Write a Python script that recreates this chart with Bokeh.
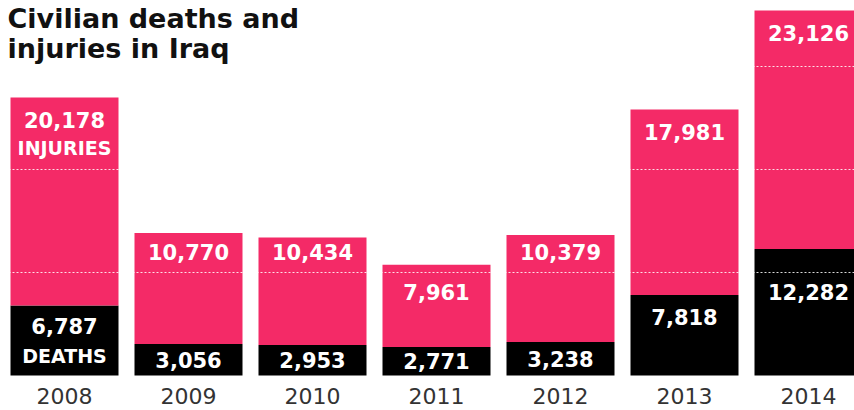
from bokeh.plotting import figure
from bokeh.models import ColumnDataSource, Range1d, Label, Grid, FixedTicker
from bokeh.core.properties import value
from bokeh.embed import file_html
from bokeh.resources import INLINE

# ---------------- data ----------------
years = ["2008", "2009", "2010", "2011", "2012", "2013", "2014"]
deaths = [6787, 3056, 2953, 2771, 3238, 7818, 12282]
injuries = [20178, 10770, 10434, 7961, 10379, 17981, 23126]
grid_values = [10000, 20000, 30000]
title_lines = ["Civilian deaths and", "injuries in Iraq"]
injury_caption = "INJURIES"
death_caption = "DEATHS"

# ---------------- style / geometry ----------------
PINK = "#f42a67"
BLACK = "#000000"
FONT = "DejaVu Sans"
W, H = 854, 410
BASE_PX = 375            # frame top -> baseline, px
PX = 97.0                # data units per pixel
Y_MAX = BASE_PX * PX
Y_MIN = -(H - BASE_PX) * PX
STEP = 124.0             # px between bar centres
X_MIN = -64.0 / STEP
X_MAX = X_MIN + W / STEP
BAR_W = 108.0 / STEP

idx = list(range(len(years)))
totals = [d + i for d, i in zip(deaths, injuries)]

p = figure(width=W, height=H, x_range=Range1d(X_MIN, X_MAX),
           y_range=Range1d(Y_MIN, Y_MAX), output_backend="svg",
           toolbar_location=None, x_axis_location=None, y_axis_location=None,
           min_border=0, outline_line_color=None, background_fill_color="white",
           border_fill_color="white")
p.grid.visible = False

src = ColumnDataSource(dict(x=idx, deaths=deaths, totals=totals))
p.vbar(x="x", bottom=0, top="deaths", width=BAR_W, source=src,
       fill_color=BLACK, line_color=None)
p.vbar(x="x", bottom="deaths", top="totals", width=BAR_W, source=src,
       fill_color=PINK, line_color=None)

# white dotted gridlines drawn over the bars
g = Grid(dimension=1, ticker=FixedTicker(ticks=grid_values),
         grid_line_color="white", grid_line_dash="2 2", grid_line_alpha=0.85,
         grid_line_width=1, level="overlay")
p.add_layout(g, "center")

grid_h = [v / PX for v in grid_values]


def place(top_h, first_offset=22.5):
    """label centre height (px above baseline) below a bar/segment top"""
    c = top_h - first_offset
    for gh in grid_h:
        if abs(c - gh) < 20:
            if top_h - (gh + 20) >= 13:
                c = gh + 20
            else:
                c = gh - 20
    return c


inj_x, inj_y, inj_t = [], [], []
dth_x, dth_y, dth_t = [], [], []
for k in idx:
    inj_x.append(k)
    inj_y.append(place(totals[k] / PX) * PX)
    inj_t.append(f"{injuries[k]:,}")
    dh = deaths[k] / PX
    if k == 0:
        c = dh / 2 + 15
    elif dh < 46:
        c = dh / 2
    else:
        c = place(dh)
    dth_x.append(k)
    dth_y.append(c * PX)
    dth_t.append(f"{deaths[k]:,}")

common = dict(text_color="white", text_font=value(FONT), text_font_style="bold",
              text_align="center", text_baseline="middle")
p.text(x=inj_x, y=inj_y, text=inj_t, text_font_size="21px", **common)
p.text(x=dth_x, y=dth_y, text=dth_t, text_font_size="21px", **common)

# captions on the first bar
p.text(x=[idx[0]], y=[inj_y[0] - 28 * PX], text=[injury_caption],
       text_font_size="19px", **common)
p.text(x=[idx[0]], y=[(deaths[0] / PX / 2 - 15) * PX], text=[death_caption],
       text_font_size="19px", **common)

# year labels
p.text(x=idx, y=[-20.5 * PX] * len(idx), text=years, text_color="#333333",
       text_font=value(FONT), text_font_size="22px", text_align="center",
       text_baseline="middle")

# title
for n, line in enumerate(title_lines):
    p.add_layout(Label(x=X_MIN + 7 / STEP, y=Y_MAX - (18 + 30 * n) * PX,
                       text=line, text_font=FONT, text_font_style="bold",
                       text_font_size="27px", text_color="#111111",
                       text_align="left", text_baseline="middle"))

open("out.html", "w").write(file_html(p, INLINE))
